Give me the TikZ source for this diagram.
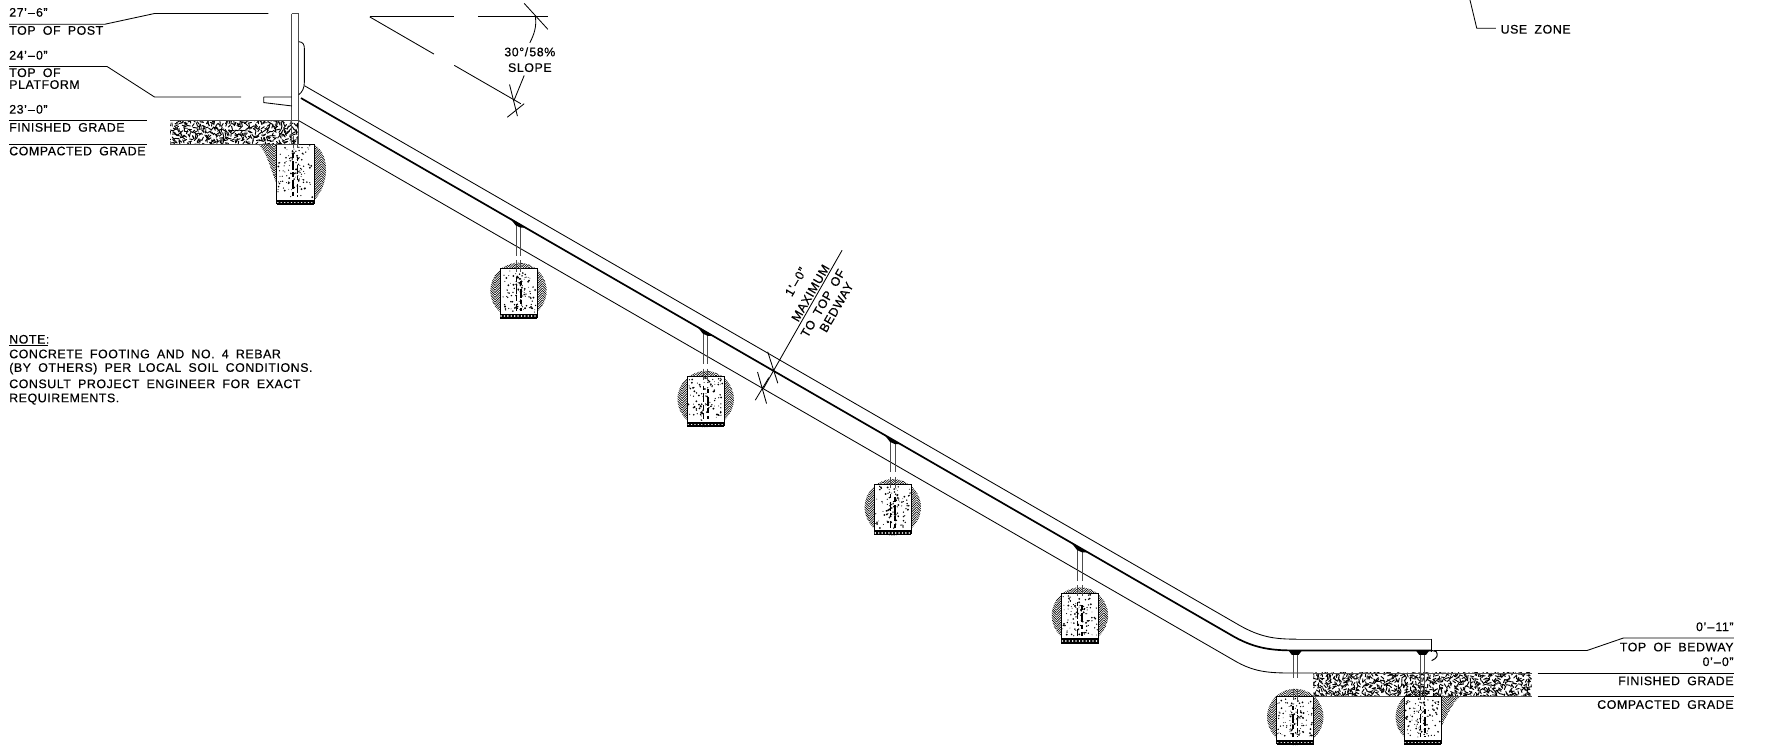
\documentclass[tikz,border=0pt]{standalone}
\usepackage{fontspec}
\setmainfont[LetterSpace=4.5,WordSpace=1.8,RawFeature={embolden=0.35}]{Liberation Sans}
\newcommand\dsh{\kern1pt--\kern1pt}
\newcommand\herring[5]{%
  \begin{scope}
    \clip #5;
    \pgfmathsetmacro\hyA{#3-7}
    \pgfmathsetmacro\hyB{#3-4.9}
    \pgfmathsetmacro\hyC{#4+7}
    \foreach \hc [count=\hi] in {#1,\the\numexpr#1+6\relax,...,#2} {
      \foreach \hy in {\hyA,\hyB,...,\hyC} {
        \ifodd\hi
          \draw[hatchline] (\hc,\hy) -- ++(6,6);
        \else
          \draw[hatchline] (\hc,\hy) -- ++(6,-6);
        \fi
      }
    }
  \end{scope}}
\newcommand\speck[5]{%
  \foreach \si in {1,...,#5} {
    \pgfmathsetmacro\sx{(#1)+rnd*((#2)-(#1))}
    \pgfmathsetmacro\sy{(#3)+rnd*((#4)-(#3))}
    \pgfmathsetmacro\sr{0.35+0.6*rnd}
    \fill (\sx,\sy) circle (\sr);
  }}
% gravel band: x0, x1, top y, bottom y, columns
\newcommand\gravel[5]{%
  \begin{scope}
    \clip (#1,#3) rectangle (#2,#4);
    \foreach \gi in {0,...,#5} {
      \foreach \gj in {0,...,8} {
        \pgfmathsetmacro\gx{#1+\gi*2.6+2.2*rnd-1.1}
        \pgfmathsetmacro\gy{#3+\gj*2.6+2.2*rnd-1.1}
        \pgfmathsetmacro\ga{rnd*360}
        \draw[gravelstroke] (\gx,\gy) -- ++(\ga:3);
      }
    }
  \end{scope}
  \draw[grade edge] (#1,#3) -- (#2,#3) (#1,#4) -- (#2,#4);}
% concrete block: centre x, top y, bottom y
\newcommand\block[3]{%
  \fill[white] (#1-16.5,#2) rectangle (#1+16.5,#3+4);
  \draw[thin line] (#1-16.5,#3+4) -- (#1-16.5,#2) -- (#1+16.5,#2) -- (#1+16.5,#3+4);
  \speck{#1-15.5}{#1+15.5}{#2+1}{#3-1}{85}
  \speck{#1-6}{#1+6}{#2+4}{#3-4}{24}
  \draw[post line] (#1-2,#2-7) -- (#1-2,#2+3) (#1+2,#2-7) -- (#1+2,#2+3);
  \draw[block core] (#1-2,#2+8) -- (#1-2,#3-2) (#1+2,#2+11) -- (#1+2,#3-2);
  \fill (#1-16.5,#3+.3) rectangle (#1+16.5,#3+5);
  \draw[band dots] (#1-15.5,#3+2.6) -- (#1+16,#3+2.6);}
% pier: post from the bedway into the footing
\newcommand\pier[3]{%
  \draw[post line] (#1-2,#2+2) -- (#1-2,#3-11) (#1+2,#2+2) -- (#1+2,#3-11);
  \fill (#1-8,#2-5) -- (#1+7,#2+4) -- (#1+2,#2+4) -- (#1-2.5,#2+2) -- cycle;}
\newcommand\pierflat[3]{%
  \draw[post line] (#1-2,#2+2) -- (#1-2,#3) (#1+2,#2+2) -- (#1+2,#3);
  \fill (#1-6,#2-1) -- (#1+6,#2-1) -- (#1+3,#2+3) -- (#1-3,#2+3) -- cycle;}
\newcommand\footing[3]{%
  \pier{#1}{#2}{#3}
  \herring{\the\numexpr#1-27\relax}{\the\numexpr#1+27\relax}{#3-7}{#3+46}{(#1,#3+20) circle (25)}
  \block{#1}{#3}{#3+40}}
\tikzset{
  x=1pt,y=-1pt,
  thin line/.style={line width=0.75pt},
  bed line/.style={line width=1.5pt},
  post line/.style={line width=0.85pt,black!70},
  hatchline/.style={line width=0.55pt},
  gravelstroke/.style={line width=0.85pt,line cap=round},
  grade edge/.style={line width=0.8pt,black!70},
  block core/.style={line width=1.3pt,dash pattern=on 4pt off 3pt on 8pt off 2pt},
  band dots/.style={line width=1.5pt,white,line cap=round,dash pattern=on 0.01pt off 3pt},
  lab/.style={inner sep=0pt,font=\fontsize{11}{12}\selectfont},
  labl/.style={lab,anchor=west},
  labr/.style={lab,anchor=east},
  labc/.style={lab,anchor=center},
  tilted/.style={lab,anchor=center,rotate=60},
}
\begin{document}
\begin{tikzpicture}
\pgfmathsetseed{11}
\useasboundingbox (0,0) rectangle (1566.6,660.9);
\fill[white] (0,0) rectangle (1566.6,660.9);

% top left labels
\node[labl] (t1) at (8,11) {27'\dsh6"};
\node[labl] (t2) at (8,27) {TOP OF POST};
\node[labl] (t3) at (8,49) {24'\dsh0"};
\node[labl] (t4) at (8,64.5) {TOP OF};
\node[labl] (t5) at (8,75) {PLATFORM};
\node[labl] (t6) at (8,97) {23'\dsh0"};
\node[labl] (t7) at (8,113) {FINISHED GRADE};
\node[labl] (t8) at (8,134) {COMPACTED GRADE};
\draw[thin line] (8,21.5) -- (93,21.5) -- (137,12) -- (238,12);
\draw[thin line] (8,59) -- (95,59) -- (137,86) -- (214,86);
\draw[thin line] (8,107) -- (130,107);
\draw[thin line] (8,128) -- (130,128);

% note
\node[labl] (n0) at (8,301) {NOTE:};
\draw[thin line] (8,306) -- (43,306);
\node[labl] (n1) at (8,314) {CONCRETE FOOTING AND NO. 4 REBAR};
\node[labl] (n2) at (8,327) {(BY OTHERS) PER LOCAL SOIL CONDITIONS.};
\node[labl] (n3) at (8,340.5) {CONSULT PROJECT ENGINEER FOR EXACT};
\node[labl] (n4) at (8,354) {REQUIREMENTS.};

% slope marker
\draw[thin line] (328,15) -- (403,15) (424,15) -- (486,15);
\draw[thin line] (328,15) -- (385,48) (403,58) -- (462,92);
\draw[thin line] (465,3) -- (486,26) (452,75) -- (459,103) (450,104) -- (465,92);
\draw[thin line] (475,15) .. controls (476,24) and (474,30) .. (470,38);
\draw[thin line] (465,67) -- (456,89);
\node[labc] (s1) at (470,46) {30\textdegree/\kern1pt58\%};
\node[labc] (s2) at (470,60) {SLOPE};

% use zone
\draw[thin line] (1304,0) -- (1310,25) -- (1327,25);
\node[labl] (u) at (1331,26) {USE ZONE};

% first footing and ground
\herring{225}{291}{125}{180}{(229,128) .. controls (236,133) and (240,150) .. (246,165) -- (262,170) -- (262,128) -- cycle}
\herring{261}{291}{125}{180}{(278,128) .. controls (294,136) and (292,166) .. (278,178) -- cycle}
\block{262}{128}{177}
\gravel{151}{265}{107}{128}{44}
\draw[post line] (259,12) -- (259,107) (265,12) -- (265,107) (259,12) -- (265,12);
\draw[post line] (259,107) -- (259,128) (265,107) -- (265,128);
\draw[thin line] (265,37) .. controls (269,37) and (270,40) .. (270,43) -- (270,73) .. controls (270,78) and (268,82) .. (265,84);
\draw[thin line] (234,86) -- (259,86) (259,94) -- (234,91) -- (234,86);

% bedway
\draw[thin line] (270,76) -- (1100,555) .. controls (1118,565) and (1130,567) .. (1150,567);
\draw[grade edge,line width=1pt] (1150,567) -- (1270,567);
\draw[line width=1.2pt] (1270,566.5) -- (1270,578);
\draw[bed line] (267,87) -- (1095,565) .. controls (1115,576) and (1130,577) .. (1150,577) -- (1270,577);
\draw[thin line] (265,107) -- (1095,586) .. controls (1112,596) and (1125,597) .. (1145,597) -- (1165,597);
\draw[line width=0.9pt] (1270,577) -- (1274,578) .. controls (1276,581) and (1275,584) .. (1270,586);

% footings along the slope
\footing{460}{198}{238}
\footing{626}{294}{334}
\footing{792}{390}{430}
\footing{958}{486}{526}

% bottom footings
\draw[post line] (1147,579) -- (1147,601) (1151,579) -- (1151,601);
\fill (1143,577) -- (1155,577) -- (1152,581) -- (1146,581) -- cycle;
\herring{1122}{1176}{608}{660}{(1149,636) circle (25)}
\block{1149}{618}{656}
\gravel{1165}{1359}{597}{618}{74}
\herring{1236}{1262}{615}{660}{(1262,636) circle (24)}
\herring{1278}{1296}{616}{645}{(1279,618) -- (1295,618) .. controls (1288,624) and (1284,634) .. (1279,644) -- cycle}
\block{1262}{618}{656}
\pierflat{1262}{578}{618}

% bottom right labels
\draw[thin line] (1272,577) -- (1408,577) -- (1440,566) -- (1538,566);
\draw[thin line] (1364,597) -- (1538,597);
\draw[thin line] (1364,618) -- (1538,618);
\node[labr] (b1) at (1538,556) {0'\dsh11"};
\node[labr] (b2) at (1538,574) {TOP OF BEDWAY};
\node[labr] (b3) at (1538,587) {0'\dsh0"};
\node[labr] (b4) at (1538,604) {FINISHED GRADE};
\node[labr] (b5) at (1538,625) {COMPACTED GRADE};

% bedway depth dimension
\draw[thin line] (747,222) -- (677,345);
\draw[thin line] (681,312) -- (690,340) (672,330) -- (680,358) (670,355) -- (682,335);
\node[tilted] (d1) at (706,250) {1'\dsh0"};
\node[tilted] (d2) at (719,260) {MAXIMUM};
\node[tilted] (d3) at (730,269) {TO TOP OF};
\node[tilted] (d4) at (742,272.5) {BEDWAY};
\end{tikzpicture}
\end{document}
